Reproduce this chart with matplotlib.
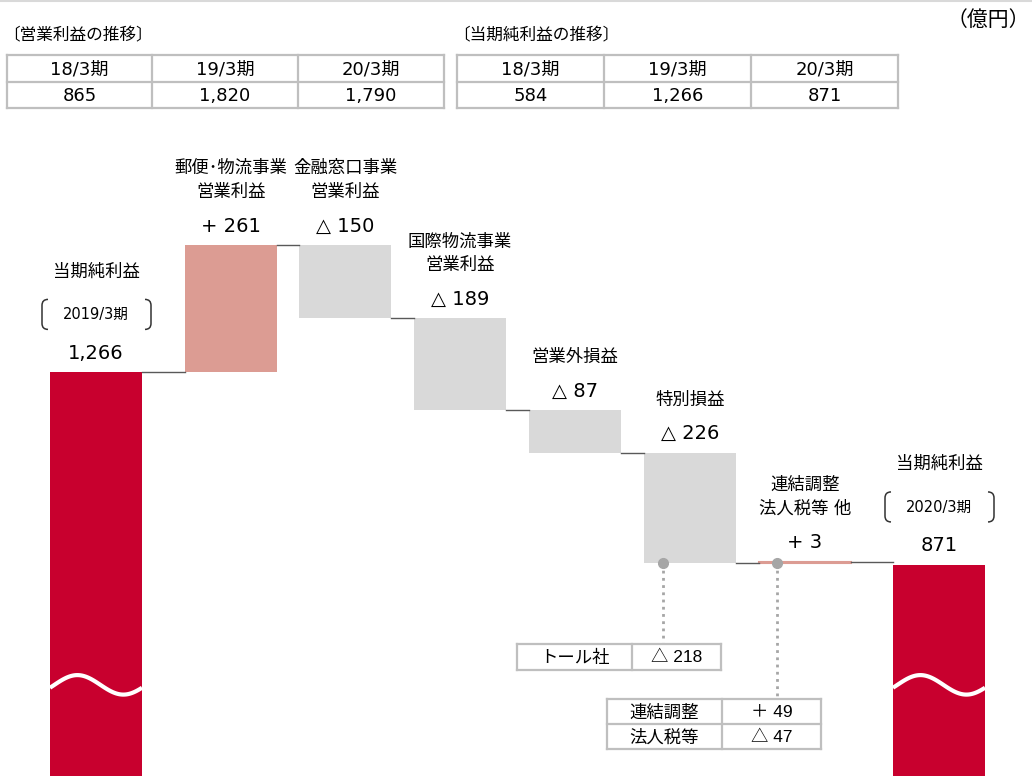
import numpy as np
import matplotlib.pyplot as plt
from matplotlib.path import Path
from matplotlib.patches import PathPatch

# Verdana-like latin + Japanese fallback
plt.rcParams['font.family'] = ['DejaVu Sans', 'Noto Sans CJK JP']

# 上段の表
periods = ['18/3期', '19/3期', '20/3期']
op_profit = ['865', '1,820', '1,790']
net_profit = ['584', '1,266', '871']

# ウォーターフォール (億円)
start_label = '当期純利益'
start_period = '2019/3期'
start_value = 1266
step_labels = ['郵便･物流事業\n営業利益', '金融窓口事業\n営業利益', '国際物流事業\n営業利益',
               '営業外損益', '特別損益', '連結調整\n法人税等 他']
step_values = [261, -150, -189, -87, -226, 3]
end_label = '当期純利益'
end_period = '2020/3期'
end_value = 871

# 内訳の表
toll_rows = [['トール社', '△ 218']]
adj_rows = [['連結調整', '＋ 49'], ['法人税等', '△ 47']]

RED = '#C8002E'
SALMON = '#DC9C93'
GRAY = '#D9D9D9'
LINE = '#BFBFBF'
DOT = '#A6A6A6'

W, H = 1032, 776
fig = plt.figure(figsize=(W / 100, H / 100), dpi=100)

# bars: x in pixel-like units, y in 億円 (axis broken below)
ax = fig.add_axes([0, 0, 1, 1])
ax.set_xlim(0, W)
ax.set_ylim(438, 2030)
ax.axis('off')

# overlay for texts and tables, pixel coords
ov = fig.add_axes([0, 0, 1, 1])
ov.set_xlim(0, W)
ov.set_ylim(H, 0)
ov.axis('off')
ov.patch.set_alpha(0)

bar_x = [96, 231, 345, 460, 575, 690, 805, 939]
bar_w = 92


def px_y(v):
    return H - ax.transData.transform((0, v))[1]


def fmt_step(v):
    return f'+ {v}' if v > 0 else f'△ {abs(v)}'


# start bar
ax.bar(bar_x[0], start_value, width=bar_w, color=RED)
level = start_value
tops = []
bottoms = []
for i, c in enumerate(step_values):
    ax.plot([bar_x[i] + bar_w / 2, bar_x[i + 1] - bar_w / 2], [level, level],
            color='#595959', lw=1)
    bottom = level + min(c, 0)
    col = SALMON if c > 0 else GRAY
    ax.bar(bar_x[i + 1], abs(c), bottom=bottom, width=bar_w, color=col,
           edgecolor=col, linewidth=1.5 if abs(c) < 10 else 0)
    tops.append(max(level, level + c))
    bottoms.append(bottom)
    level += c
ax.plot([bar_x[6] + bar_w / 2, bar_x[7] - bar_w / 2], [level, level],
        color='#595959', lw=1)
ax.bar(bar_x[7], end_value, width=bar_w, color=RED)

# wave break on the red bars
for xc in (bar_x[0], bar_x[7]):
    xs = np.linspace(xc - bar_w / 2, xc + bar_w / 2, 80)
    ys = 625 + 20 * np.sin(2 * np.pi * (xs - xs[0]) / bar_w - 0.3)
    ax.plot(xs, ys, color='white', lw=3, solid_capstyle='butt')

# step labels
for i, c in enumerate(step_values):
    x = bar_x[i + 1]
    ty = px_y(tops[i])
    ov.text(x, ty - 19, fmt_step(c), ha='center', va='center', fontsize=14)
    lines = step_labels[i].split('\n')[::-1]
    for k, ln in enumerate(lines):
        ov.text(x, ty - 53 - 24 * k, ln, ha='center', va='center', fontsize=12.5)


def bracket(x0, yc, side):
    h, r = 15, 6
    s = 1 if side == 'left' else -1
    verts = [(x0 + s * r, yc - h), (x0, yc - h), (x0, yc - h + r),
             (x0, yc + h - r), (x0, yc + h), (x0 + s * r, yc + h)]
    codes = [Path.MOVETO, Path.CURVE3, Path.CURVE3,
             Path.LINETO, Path.CURVE3, Path.CURVE3]
    ov.add_patch(PathPatch(Path(verts, codes), fill=False, lw=1.1, ec='#333333'))


for x, v, lab, per in [(bar_x[0], start_value, start_label, start_period),
                       (bar_x[7], end_value, end_label, end_period)]:
    ty = px_y(v)
    ov.text(x, ty - 19, f'{v:,}', ha='center', va='center', fontsize=14)
    ov.text(x, ty - 58, per, ha='center', va='center', fontsize=10.5)
    bracket(x - bar_w / 2 - 8, ty - 58, 'left')
    bracket(x + bar_w / 2 + 9, ty - 58, 'right')
    ov.text(x, ty - 101, lab, ha='center', va='center', fontsize=12.5)


def draw_table(xe, ye, rows, fs, fam=None):
    for y in ye:
        ov.plot([xe[0], xe[-1]], [y, y], color=LINE, lw=1.6, solid_capstyle='projecting')
    for x in xe:
        ov.plot([x, x], [ye[0], ye[-1]], color=LINE, lw=1.6, solid_capstyle='projecting')
    for r, row in enumerate(rows):
        for c, txt in enumerate(row):
            kw = {}
            if fam is not None:
                kw['family'] = fam
            ov.text((xe[c] + xe[c + 1]) / 2, (ye[r] + ye[r + 1]) / 2 + 1, txt,
                    ha='center', va='center', fontsize=fs, **kw)


# top summary tables
ov.plot([0, W], [1, 1], color='#D9D9D9', lw=1.5)
ov.text(3, 35, '〔営業利益の推移〕', ha='left', va='center', fontsize=12)
ov.text(453, 35, '〔当期純利益の推移〕', ha='left', va='center', fontsize=12)
ov.text(1030, 20, '（億円）', ha='right', va='center', fontsize=15)
draw_table([7, 152, 298, 444], [55, 82, 108], [periods, op_profit], 13)
draw_table([457, 604, 751, 898], [55, 82, 108], [periods, net_profit], 13)

# breakdown call-outs
fam_num = ['Liberation Sans', 'Noto Sans CJK JP']
toll_x = bar_x[5] - 27
adj_x = bar_x[6] - 28
y6 = px_y(bottoms[4])
y7 = px_y(bottoms[5])
ov.plot([toll_x, toll_x], [y6, 644], ls=(0, (1, 1.6)), color=DOT, lw=2)
ov.plot(toll_x, y6, 'o', ms=7, color=DOT)
ov.plot([adj_x, adj_x], [y7, 699], ls=(0, (1, 1.6)), color=DOT, lw=2)
ov.plot(adj_x, y7, 'o', ms=7, color=DOT)
draw_table([517, 632, 721], [644, 670], toll_rows, 12.5, fam_num)
draw_table([607, 722, 821], [699, 724, 749], adj_rows, 12.5, fam_num)

fig.savefig('out.png', dpi=100)
